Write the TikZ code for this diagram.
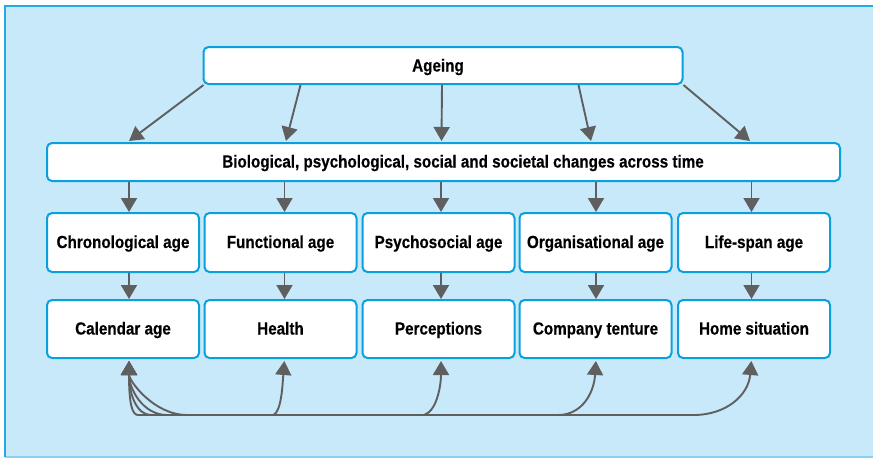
\documentclass[tikz,border=0pt]{standalone}
\usepackage{fontspec}
\newfontfamily\labfont[FakeStretch=0.87,FakeBold=0.4]{Liberation Sans}
\usetikzlibrary{arrows.meta,calc}
\definecolor{bgblue}{RGB}{200,233,250}
\definecolor{frameblue}{RGB}{40,168,226}
\definecolor{framelight}{RGB}{140,208,242}
\definecolor{boxblue}{RGB}{10,160,222}
\definecolor{arrgray}{RGB}{95,95,95}
\begin{document}
\begin{tikzpicture}[x=1pt,y=-1pt,
  box/.style={draw=boxblue,line width=2pt,fill=white,rounded corners=5pt,
    inner sep=0pt,text height=13pt,text depth=2pt,
    font=\labfont\bfseries\fontsize{17.5}{20}\selectfont,text=black},
  smallbox/.style={box,minimum width=152pt,minimum height=59pt},
  conn/.style={draw=arrgray,line width=1.9pt,-{Triangle[length=14pt,width=16pt]}},
  biconn/.style={draw=arrgray,line width=1.9pt,{Triangle[length=14pt,width=16pt]}-{Triangle[length=14pt,width=16pt]}}]
\useasboundingbox (0,0) rectangle (873,459);
% frame
\fill[bgblue] (5,6) rectangle (880,457);
\draw[framelight,line width=1.5pt] (5,457) -- (880,457);
\draw[frameblue,line width=2pt] (5,457) -- (5,6) -- (880,6);
% nodes
\node[box,minimum width=479pt,minimum height=37pt,text depth=1pt] (ageing) at (443,65.5) {\hspace*{-10pt}Ageing};
\node[box,minimum width=793pt,minimum height=38pt] (bio) at (443.5,162) {\hspace*{39pt}Biological, psychological, social and societal changes across time};
\node[smallbox] (chrono) at (123,242.5) {Chronological age};
\node[smallbox] (func) at (280.5,242.5) {Functional age};
\node[smallbox] (psych) at (438.5,242.5) {Psychosocial age};
\node[smallbox] (org) at (595.5,242.5) {Organisational age};
\node[smallbox] (life) at (754,242.5) {Life-span age};
\node[smallbox,minimum height=58pt] (cal) at (123,329) {Calendar age};
\node[smallbox,minimum height=58pt] (health) at (280.5,329) {Health};
\node[smallbox,minimum height=58pt] (perc) at (438.5,329) {Perceptions};
\node[smallbox,minimum height=58pt] (comp) at (595.5,329) {Company tenture};
\node[smallbox,minimum height=58pt] (home) at (754,329) {Home situation};
% column coordinates
\coordinate (k1) at (129,0);
\coordinate (k2) at (284.5,0);
\coordinate (k3) at (441,0);
\coordinate (k4) at (596,0);
\coordinate (k5) at (751.5,0);
% ageing -> bio
\draw[conn] ($(ageing.south west)+(1,0)$) -- ($(bio.north west)+(83,-1)$);
\draw[conn] ($(ageing.south west)+(98,0)$) -- ($(bio.north west)+(240,-1)$);
\draw[conn] ($(ageing.south)+(-1,0)$) -- ($(bio.north)+(-2,-1)$);
\draw[conn] ($(ageing.south east)+(-105,0)$) -- ($(bio.north west)+(545,-1)$);
\draw[conn] ($(ageing.south east)+(0,0)$) -- ($(bio.north west)+(704,-1)$);
% bio -> row 1
\foreach \t/\k in {chrono/k1,func/k2,psych/k3,org/k4,life/k5}
  \draw[conn] (bio.south -| \k) -- (\t.north -| \k);
% row 1 -> row 2
\foreach \s/\t/\k in {chrono/cal/k1,func/health/k2,psych/perc/k3,org/comp/k4,life/home/k5}
  \draw[conn] (\s.south -| \k) -- (\t.north -| \k);
% bottom links
\coordinate (base) at (0,415);
\draw[biconn,shorten <=2pt,shorten >=2pt] (cal.south -| k1) .. controls ($(base -| k1)+(0,-12)$) and ($(base -| k1)+(3,0)$) .. ($(base -| k1)+(9,0)$)
  -- ($(base -| k2)+(-11,0)$) .. controls ($(base -| k2)+(-3,-4)$) and ($(base -| k2)+(-2,-30)$) .. (health.south -| k2);
\draw[biconn,shorten <=2pt,shorten >=2pt] (cal.south -| k1) .. controls ($(base -| k1)+(0,-20)$) and ($(base -| k1)+(8,0)$) .. ($(base -| k1)+(22,0)$)
  -- ($(base -| k3)+(-17,0)$) .. controls ($(base -| k3)+(-4,-4)$) and ($(base -| k3)+(0,-30)$) .. (perc.south -| k3);
\draw[biconn,shorten <=2pt,shorten >=2pt] (cal.south -| k1) .. controls ($(base -| k1)+(0,-26)$) and ($(base -| k1)+(14,0)$) .. ($(base -| k1)+(38,0)$)
  -- ($(base -| k4)+(-38,0)$) .. controls ($(base -| k4)+(-14,0)$) and ($(base -| k4)+(-2,-22)$) .. (comp.south -| k4);
\draw[biconn,shorten <=2pt,shorten >=2pt] (cal.south -| k1) .. controls ($(base -| k1)+(0,-34)$) and ($(base -| k1)+(25,0)$) .. ($(base -| k1)+(58,0)$)
  -- ($(base -| k5)+(-58,0)$) .. controls ($(base -| k5)+(-25,0)$) and ($(base -| k5)+(-3,-20)$) .. (home.south -| k5);
\end{tikzpicture}
\end{document}
